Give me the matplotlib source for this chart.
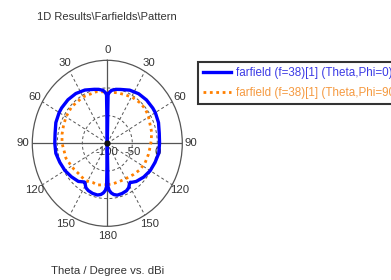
import numpy as np
import matplotlib
matplotlib.use("Agg")
import matplotlib.pyplot as plt

# ---- data (theta in degrees, gain in dBi) ----
theta_phi0 = [-180, -179, -177.5, -175, -172, -168, -162, -156, -152, -149, -147, -145, -140,
              -130, -120, -110, -100, -90, -80, -70, -60, -55, -45, -35, -25, -15, -10, -5, -2, -1,
              0, 1, 2, 5, 10, 15, 25, 35, 45, 55, 60, 70, 80, 90, 100, 110, 120, 130, 140,
              145, 147, 149, 152, 156, 162, 168, 172, 175, 177.5, 179, 180]
gain_phi0 = [-100, -22, -15, -10, -6.5, -4.5, -4.8, -6.5, -9, -14, -16.5, -15, -10,
             -6, -2, 1, 4.5, 5, 6, 9.5, 11.2, 11.5, 11.3, 9.8, 6.2, 1, -1, -4, -9, -13,
             -100, -13, -9, -4, -1, 0.8, 6, 9.3, 10.8, 11, 10.9, 9, 5.5, 4.5, 4.5, 1.5, -1, -5, -10,
             -14, -16, -14, -9, -6, -4.6, -4.2, -6.5, -10, -15, -22, -100]

theta_phi90 = [-180, -165, -158, -150, -144, -135, -125, -117, -108, -100, -90, -80, -71, -60,
               -47, -30, -13, 0, 12, 22, 32, 42, 50, 58, 67, 77, 87, 94, 104, 115, 126, 137,
               148, 160, 171, 180]
gain_phi90 = [-25.2, -22, -23.5, -21, -20, -20.8, -18.5, -16.6, -13, -12.7, -9.5, -8, -7, -4.5,
              -2.8, -3.1, -4.3, -7, -6.6, -5.2, -3, -1.7, -2, -3.7, -7.6, -9, -12, -14, -15.4,
              -16.6, -19, -23, -26, -26.8, -26, -25.2]

series_labels = ["farfield (f=38)[1] (Theta,Phi=0)", "farfield (f=38)[1] (Theta,Phi=90)"]
angle_ticks = [0, 30, 60, 90, 120, 150, 180, 210, 240, 270, 300, 330]
angle_labels = ["0", "30", "60", "90", "120", "150", "180", "150", "120", "90", "60", "30"]
r_ticks = [-100, -50, 0]
r_max = 50

plt.rcParams['font.family'] = ['Liberation Sans', 'DejaVu Sans']

W, H = 391, 280
fig = plt.figure(figsize=(W / 100, H / 100), dpi=100)
fig.patch.set_facecolor('white')

cx, cy, rx, ry = 107.3, 143.3, 75, 83
ax = fig.add_axes([(cx - rx) / W, (H - cy - ry) / H, 2 * rx / W, 2 * ry / H],
                  projection='polar')
ax.set_aspect('auto')
ax.set_theta_zero_location('N')
ax.set_theta_direction(-1)
ax.set_rlim(r_ticks[0], r_max)
ax.grid(False)
ax.set_xticks([])
ax.set_yticks([])
ax.spines['polar'].set_color('#555555')
ax.spines['polar'].set_linewidth(0.9)

gridc = '#555555'
full = np.linspace(0, 2 * np.pi, 361)
for rv in r_ticks[1:]:
    ax.plot(full, np.full_like(full, rv), color=gridc, lw=0.7, ls=(0, (3, 2.5)), zorder=1)
for a in angle_ticks:
    t = np.deg2rad(a)
    if a % 90 == 0:
        ax.plot([t, t], [r_ticks[0], r_max], color=gridc, lw=0.9, zorder=1)
    else:
        ax.plot([t, t], [r_ticks[0], r_max], color=gridc, lw=0.7, ls=(0, (3, 2.5)), zorder=1)

# angle labels
for a, lab in zip(angle_ticks, angle_labels):
    ax.text(np.deg2rad(a), r_ticks[0] + 150 * 1.12, lab, ha='center', va='center',
            fontsize=8.2, color='#333333', clip_on=False)

# radial labels
for rv in r_ticks:
    ax.annotate(str(rv), xy=(np.pi / 2, rv), xytext=(0, -9), textcoords='offset pixels',
                ha='center', va='center', fontsize=8.2, color='#333333', zorder=2)

l1, = ax.plot(np.deg2rad(theta_phi0), gain_phi0, color='#0000ff', lw=2.4, zorder=4,
              solid_joinstyle='round')
l2, = ax.plot(np.deg2rad(theta_phi90), gain_phi90, color='#ff8000', lw=2.0, zorder=3,
              ls=(0, (1, 1.3)), dash_capstyle='butt')
ax.plot([0], [r_ticks[0]], 'o', color='#111111', ms=3.5, zorder=5)

leg = fig.legend([l1, l2], series_labels, loc='upper left',
                 bbox_to_anchor=(198 / W, 1 - 62 / H), borderaxespad=0,
                 fontsize=8.4, frameon=True, fancybox=False, edgecolor='black',
                 handlelength=2.4, handletextpad=0.45, labelspacing=0.7, borderpad=0.4,
                 labelcolor=['#3a3ae6', '#f59a40'])
leg.get_frame().set_linewidth(1.5)

fig.text(106.5 / W, 1 - 17 / H, "1D Results\\Farfields\\Pattern", ha='center', va='center',
         fontsize=8, color='#333333')
fig.text(107.3 / W, 1 - 271 / H, "Theta / Degree vs. dBi", ha='center', va='center',
         fontsize=8.2, color='#333333')

fig.savefig('out.png', dpi=100, facecolor='white')
